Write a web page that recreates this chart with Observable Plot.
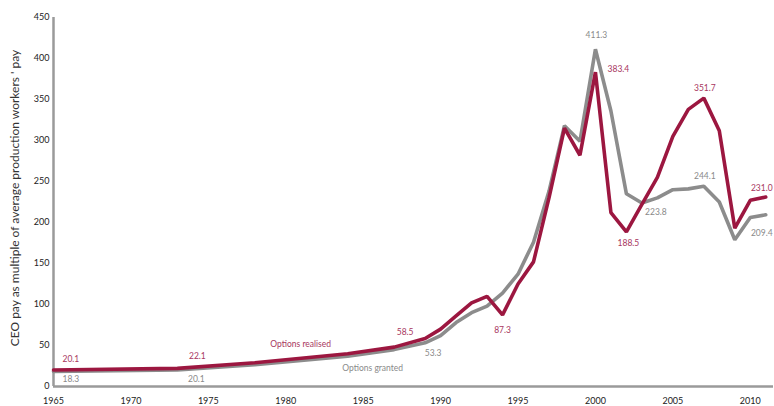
<!DOCTYPE html>
<html>
<head>
<meta charset="utf-8">
<script src="https://cdn.jsdelivr.net/npm/d3@7"></script>
<script src="https://cdn.jsdelivr.net/npm/@observablehq/plot@0.6"></script>
<style>
  html, body { margin: 0; padding: 0; background: #fff; }
</style>
</head>
<body>
<div id="chart"></div>
<script>
// ---- data ----
const years = [1965, 1973, 1978, 1984, 1987, 1989, 1990, 1991, 1992, 1993, 1994, 1995, 1996, 1997, 1998, 1999, 2000, 2001, 2002, 2003, 2004, 2005, 2006, 2007, 2008, 2009, 2010, 2011];
const realised = [20.1, 22.1, 29.0, 40, 48, 58.5, 70, 86, 102, 110, 87.3, 125, 152, 230, 315, 282, 383.4, 212, 188.5, 222, 255, 305, 338, 351.7, 312, 193, 227, 231.0];
const granted  = [18.3, 20.1, 26.5, 37, 45, 53.3, 62, 78, 90, 98, 114, 137, 176, 238, 318, 299, 411.3, 336, 235, 223.8, 230, 240, 241, 244.1, 225, 179, 206, 209.4];

const xTicks = [1965, 1970, 1975, 1980, 1985, 1990, 1995, 2000, 2005, 2010];
const yTicks = [0, 50, 100, 150, 200, 250, 300, 350, 400, 450];

const seriesNames = ["Options realised", "Options granted"];
const yTitle = "CEO pay as multiple of average production workers ' pay";

// years whose values are printed beside the lines
const realisedLabelYears = [1965, 1973, 1989, 1994, 2000, 2002, 2007, 2011];
const grantedLabelYears  = [1965, 1973, 1989, 2000, 2003, 2007, 2011];

// ---- build tables ----
const rows = [];
years.forEach((yr, i) => {
  rows.push({year: yr, value: realised[i], series: seriesNames[0]});
  rows.push({year: yr, value: granted[i], series: seriesNames[1]});
});
const realRows = rows.filter(d => d.series === seriesNames[0]);
const grantRows = rows.filter(d => d.series === seriesNames[1]);

// label offsets (layout only)
const realOffsets = {1965: [9, -11, "start"], 1973: [20, -12, "middle"], 1989: [-20, -6, "middle"], 1994: [0, 15, "middle"], 2000: [23, -3, "middle"], 2002: [2, 11, "middle"], 2007: [1, -10, "middle"], 2011: [-4, -9, "middle"]};
const grantOffsets = {1965: [9, 8, "start"], 1973: [19, 9, "middle"], 1989: [8, 10, "middle"], 2000: [1, -14, "middle"], 2003: [14, 9, "middle"], 2007: [1, -10, "middle"], 2011: [-4, 18, "middle"]};

const RED = "#9c1740";
const RED_TXT = "#a8365e";
const GREY = "#8c8c8c";
const GREY_TXT = "#8a8a8a";

function valueLabels(data, labelYears, offsets, color) {
  return labelYears.map(yr => {
    const d = data.find(r => r.year === yr);
    const [dx, dy, anchor] = offsets[yr];
    return Plot.text([d], {x: "year", y: "value", text: r => r.value.toFixed(1), dx, dy, textAnchor: anchor, fill: color, fontSize: 8.5});
  });
}

const chart = Plot.plot({
  width: 774,
  height: 406,
  marginLeft: 53,
  marginRight: 1,
  marginTop: 17,
  marginBottom: 20,
  style: {fontFamily: "Lato, 'Open Sans', sans-serif", background: "#fff", color: "#333"},
  x: {domain: [1965, 2011.5]},
  y: {domain: [0, 450]},
  marks: [
    Plot.axisX({ticks: xTicks, tickFormat: d => String(d), tickSize: 0, tickPadding: 11, fontSize: 9, label: null, fill: "#222"}),
    Plot.axisY({ticks: yTicks, tickSize: 0, tickPadding: 4, fontSize: 9, label: null, fill: "#222"}),
    Plot.text([yTitle], {frameAnchor: "left", rotate: -90, dx: -38, dy: -4, textAnchor: "middle", fontSize: 12, fill: "#333"}),
    Plot.ruleY([0], {stroke: "#9a9a9a", strokeWidth: 2.5}),
    Plot.ruleX([1965], {stroke: "#9a9a9a", strokeWidth: 2.5}),
    Plot.line(grantRows, {x: "year", y: "value", stroke: GREY, strokeWidth: 3.6, strokeLinejoin: "miter"}),
    Plot.line(realRows, {x: "year", y: "value", stroke: RED, strokeWidth: 3.6, strokeLinejoin: "miter"}),
    ...valueLabels(realRows, realisedLabelYears, realOffsets, RED_TXT),
    ...valueLabels(grantRows, grantedLabelYears, grantOffsets, GREY_TXT),
    Plot.text(realRows.filter(d => d.year === 1984), {x: "year", y: "value", text: d => d.series, dx: -47, dy: -9, fill: RED_TXT, fontSize: 8.5}),
    Plot.text(grantRows.filter(d => d.year === 1984), {x: "year", y: "value", text: d => d.series, dx: 25, dy: 12, fill: GREY_TXT, fontSize: 8.5})
  ]
});
document.getElementById("chart").appendChild(chart);
</script>
</body>
</html>
